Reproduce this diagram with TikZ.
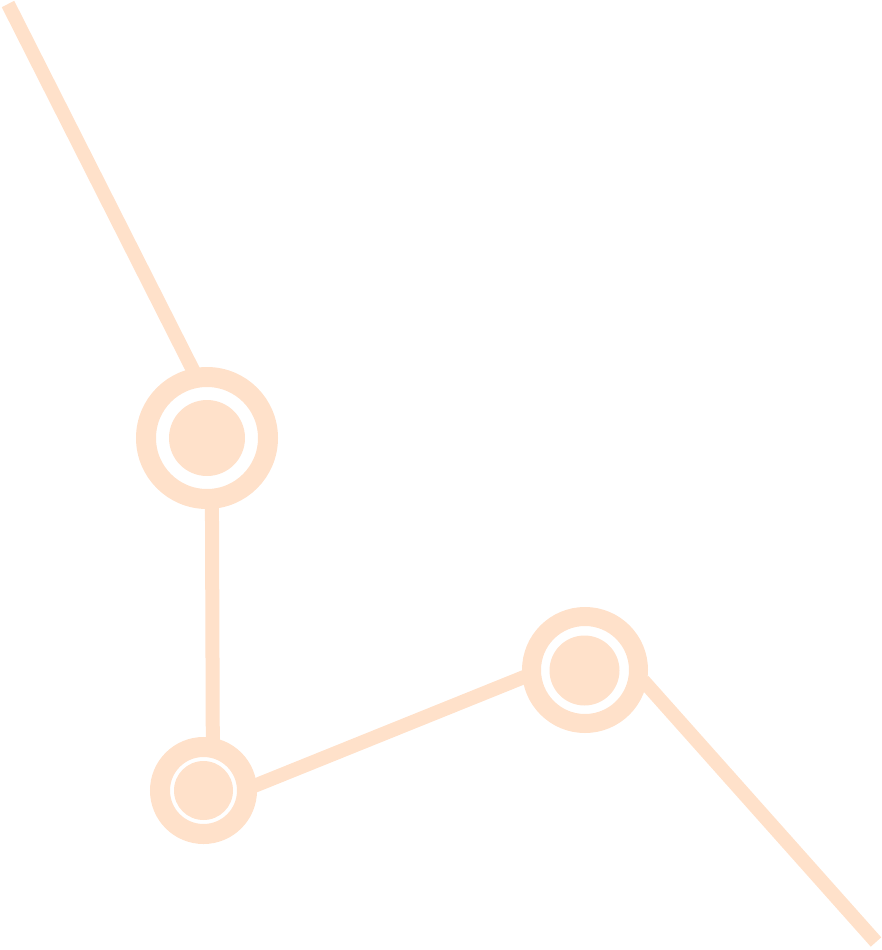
\documentclass[tikz,border=0pt]{standalone}
\usepackage{tikz}
\definecolor{peach}{RGB}{255,225,202}
\begin{document}
\begin{tikzpicture}[x=1pt,y=-1pt,
	ring/.style={circle, draw=peach, line width=20pt, inner sep=0pt},
	dot/.style={circle, fill=peach, inner sep=0pt},
	link/.style={draw=peach, line width=14pt}]
	\useasboundingbox (0,0) rectangle (882,950);
	
	%Nodes
	\node[ring, minimum size=122pt]	(ra)	at (207,438) {};
	\node[dot, minimum size=76pt]	(da)	at (ra) {};
	\node[ring, minimum size=87pt]	(rb)	at (203.5,790.5) {};
	\node[dot, minimum size=59pt]	(db)	at (rb) {};
	\node[ring, minimum size=107pt, line width=19pt]	(rc)	at (585,670) {};
	\node[dot, minimum size=70pt]	(dc)	at (584.5,670.5) {};
	\coordinate (top) at (8,4);
	\coordinate (bot) at (876,942);
	
	%Lines
	\draw[link, shorten >=-5pt] (top) -- (ra.102);
	\draw[link, shorten <=-5pt, shorten >=-2pt] (ra.-86) -- (rb.80);
	\draw[link, shorten <=-5pt, shorten >=-5pt] (rb.6) -- (rc.187);
	\draw[link, shorten <=-5pt] (rc.-13) -- (bot);
\end{tikzpicture}
\end{document}
